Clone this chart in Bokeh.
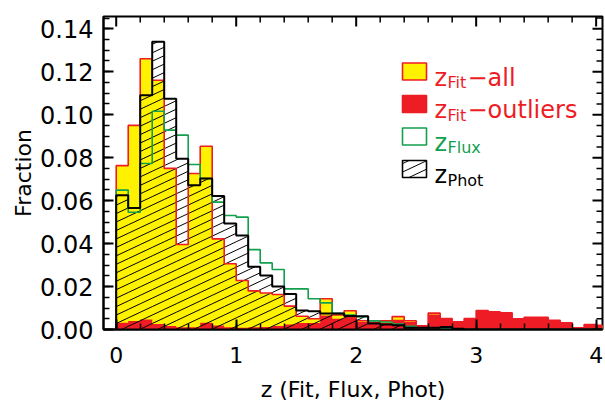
import numpy as np
from bokeh.plotting import figure
from bokeh.models import (Range1d, FixedTicker, BoxAnnotation, Label, PrintfTickFormatter, Title)
from bokeh.embed import file_html
from bokeh.resources import INLINE

# ---------------- data (fraction per 0.1 bin, starting at z = 0) ----------------
bin_width = 0.1
fit_all = [0.0763, 0.0950, 0.1260, 0.1160, 0.0750, 0.0396, 0.0726, 0.0853, 0.0422, 0.0306,
           0.0228, 0.0180, 0.0170, 0.0163, 0.0109, 0.0062, 0.0050, 0.0143, 0.0068, 0.0087,
           0.0041, 0.0034, 0.0040, 0.0060, 0.0041, 0.0017, 0.0076, 0.0051, 0.0036, 0.0051,
           0.0088, 0.0082, 0.0078, 0.0050, 0.0057, 0.0057, 0.0043, 0.0031, 0.0008, 0.0023, 0.0019]
fit_outliers = [0.0031, 0.0039, 0.0047, 0.0026, 0.0016, 0.0011, 0.0011, 0.0031, 0.0019, 0.0010,
                0.0008, 0.0010, 0.0012, 0.0016, 0.0023, 0.0030, 0.0030, 0.0065, 0.0050, 0.0060,
                0.0035, 0.0030, 0.0030, 0.0045, 0.0035, 0.0016, 0.0070, 0.0051, 0.0036, 0.0051,
                0.0088, 0.0082, 0.0078, 0.0050, 0.0057, 0.0057, 0.0043, 0.0031, 0.0008, 0.0023, 0.0019]
flux = [0.0649, 0.0546, 0.0773, 0.1016, 0.0928, 0.0905, 0.0768, 0.0703, 0.0593, 0.0531,
        0.0523, 0.0372, 0.0310, 0.0279, 0.0189, 0.0189, 0.0143, 0.0124, 0.0075, 0.0067,
        0.0060, 0.0040, 0.0035, 0.0025, 0.0015, 0.0008, 0.0008, 0.0005, 0.0003, 0.0, 0.0,
        0.0, 0.0, 0.0, 0.0, 0.0, 0.0, 0.0, 0.0, 0.0, 0.0]
phot = [0.0625, 0.0566, 0.1090, 0.1340, 0.1074, 0.0795, 0.0672, 0.0703, 0.0622, 0.0493,
        0.0438, 0.0292, 0.0251, 0.0200, 0.0165, 0.0088, 0.0085, 0.0075, 0.0075, 0.0063,
        0.0062, 0.0028, 0.0023, 0.0020, 0.0008, 0.0008, 0.0008, 0.0012, 0.0003, 0.0, 0.0,
        0.0, 0.0, 0.0, 0.0, 0.0, 0.0, 0.0, 0.0, 0.0, 0.0]
x_ticks = [0, 1, 2, 3, 4]
y_ticks = [0.00, 0.02, 0.04, 0.06, 0.08, 0.10, 0.12, 0.14]

# ---------------- styling / layout ----------------
YELLOW = "#FFF200"
RED = "#EE1C25"
GREEN = "#12A04E"
BLACK = "#000000"
FONT = "DejaVu Sans"

FRAME_W, FRAME_H = 499, 313
X0, X1 = -0.106, 4.053
Y0, Y1 = 0.0, 0.1457
DX = (X1 - X0) / FRAME_W   # data per pixel (x)
DY = (Y1 - Y0) / FRAME_H   # data per pixel (y)

def fx(px):  # frame pixel (from left) -> data x
    return X0 + px * DX

def fy(py):  # frame pixel (from top) -> data y
    return Y1 - py * DY

n = len(fit_all)
edges = np.arange(n + 1) * bin_width

def outline(h):
    xs, ys = [edges[0]], [0.0]
    for i, v in enumerate(h):
        xs += [edges[i], edges[i + 1]]
        ys += [v, v]
    xs.append(edges[-1]); ys.append(0.0)
    return xs, ys

# hatch geometry (screen slope and spacing in pixels converted to data)
SLOPE_PX = 0.47
STEP_PX = 18.0
m = SLOPE_PX * DY / DX
step = STEP_PX * DX
cs = np.arange(X0 - Y1 / m - step, X1 + step, step)

def hatch(rects):
    a, b, c_, d = [], [], [], []
    for (xa, xb, ya, yb) in rects:
        if yb <= ya:
            continue
        for c in cs:
            lo = max(xa, c + ya / m)
            hi = min(xb, c + yb / m)
            if hi > lo:
                a.append(lo); b.append(m * (lo - c)); c_.append(hi); d.append(m * (hi - c))
    return a, b, c_, d

p = figure(frame_width=FRAME_W, frame_height=FRAME_H,
           x_range=Range1d(X0, X1), y_range=Range1d(Y0, Y1),
           output_backend="svg", toolbar_location=None,
           min_border_left=103, min_border_right=2, min_border_top=16, min_border_bottom=80)
p.outline_line_color = BLACK
p.outline_line_width = 2
p.xgrid.visible = False
p.ygrid.visible = False

# fills
xa_, ya_ = outline(fit_all)
p.patch(xa_, ya_, fill_color=YELLOW, line_color=None)
xo_, yo_ = outline(fit_outliers)
p.patch(xo_, yo_, fill_color=RED, line_color=None)

# hatch for z_Phot
rects = [(edges[i], edges[i + 1], 0.0, phot[i]) for i in range(n)]
hx0, hy0, hx1, hy1 = hatch(rects)
p.segment(hx0, hy0, hx1, hy1, line_color=BLACK, line_width=1)

# outlines
p.line(xa_, ya_, line_color=RED, line_width=1.6)
xf_, yf_ = outline(flux)
p.line(xf_, yf_, line_color=GREEN, line_width=1.6)
xp_, yp_ = outline(phot)
p.line(xp_, yp_, line_color=BLACK, line_width=2)

# ---------------- axes ----------------
x_minor = [float(v) for v in np.round(np.arange(0, 4.2, 0.2), 3)]
y_minor = [float(v) for v in np.round(np.arange(0, 0.146, 0.005), 4)]
MAJ, MIN = 10, 6

def style(ax, size):
    ax.axis_line_width = 2
    ax.axis_line_color = BLACK
    ax.major_tick_line_width = 2
    ax.minor_tick_line_width = 1.5
    ax.major_tick_in = MAJ
    ax.major_tick_out = 0
    ax.minor_tick_in = MIN
    ax.minor_tick_out = 0
    ax.major_label_text_font = FONT
    ax.major_label_text_color = BLACK
    ax.major_label_text_font_size = size
    ax.axis_label_text_font = FONT
    ax.axis_label_text_font_style = "normal"
    ax.axis_label_text_font_size = "22px"
    ax.axis_label_text_color = BLACK

xb = p.xaxis[0]
xb.ticker = FixedTicker(ticks=x_ticks, minor_ticks=x_minor)
style(xb, "22px")
xb.major_label_standoff = 17
xb.axis_label = "z (Fit, Flux, Phot)"
xb.axis_label_standoff = 11

yl = p.yaxis[0]
yl.ticker = FixedTicker(ticks=y_ticks, minor_ticks=y_minor)
yl.formatter = PrintfTickFormatter(format="%.2f")
style(yl, "24px")
yl.major_label_standoff = 10

# y-axis title, shifted above the panel centre like the original
p.add_layout(Title(text="Fraction", align="center", offset=44, standoff=4,
                   text_font=FONT, text_font_size="22px", text_font_style="normal",
                   text_color=BLACK), "left")

# mirrored ticks on the top and right frame edges
tx = [t for t in x_ticks] + [t for t in x_minor if t not in x_ticks]
tl = [MAJ] * len(x_ticks) + [MIN] * (len(tx) - len(x_ticks))
p.segment(tx, [Y1] * len(tx), tx, [Y1 - L * DY for L in tl], line_color=BLACK,
          line_width=[2] * len(x_ticks) + [1.5] * (len(tx) - len(x_ticks)))
ty = [t for t in y_ticks] + [t for t in y_minor if min(abs(t - u) for u in y_ticks) > 1e-6]
tyl = [MAJ] * len(y_ticks) + [MIN] * (len(ty) - len(y_ticks))
p.segment([X1] * len(ty), ty, [X1 - L * DX for L in tyl], ty, line_color=BLACK,
          line_width=[2] * len(y_ticks) + [1.5] * (len(ty) - len(y_ticks)))

# ---------------- legend ----------------
entries = [
    (YELLOW, RED, "Fit", "\u2212all", RED, False),
    (RED, RED, "Fit", "\u2212outliers", RED, False),
    (None, GREEN, "Flux", "", GREEN, False),
    (None, BLACK, "Phot", "", BLACK, True),
]
BOX_L, BOX_R = 299, 323
ROW0, ROW_DY, BOX_H = 55, 32.5, 17
for k, (fc, lc, sub, suffix, tc, hatched) in enumerate(entries):
    cy = ROW0 + k * ROW_DY
    top, bot = cy - BOX_H / 2, cy + BOX_H / 2
    if hatched:
        a, b, c_, d = hatch([(fx(BOX_L), fx(BOX_R), fy(bot), fy(top))])
        p.segment(a, b, c_, d, line_color=BLACK, line_width=1)
    p.add_layout(BoxAnnotation(left=fx(BOX_L), right=fx(BOX_R), bottom=fy(bot), top=fy(top),
                               fill_color=fc if fc else "white", fill_alpha=1 if fc else 0,
                               line_color=lc, line_width=1.6, line_alpha=1))
    base = cy + 6
    p.add_layout(Label(x=fx(331), y=fy(base), text="z", text_font=FONT, text_font_size="24px",
                       text_color=tc, text_baseline="alphabetic"))
    p.add_layout(Label(x=fx(344), y=fy(base + 5), text=sub, text_font=FONT, text_font_size="16px",
                       text_color=tc, text_baseline="alphabetic"))
    if suffix:
        p.add_layout(Label(x=fx(364), y=fy(base), text=suffix, text_font=FONT,
                           text_font_size="24px", text_color=tc, text_baseline="alphabetic"))

open("out.html", "w").write(file_html(p, INLINE))
